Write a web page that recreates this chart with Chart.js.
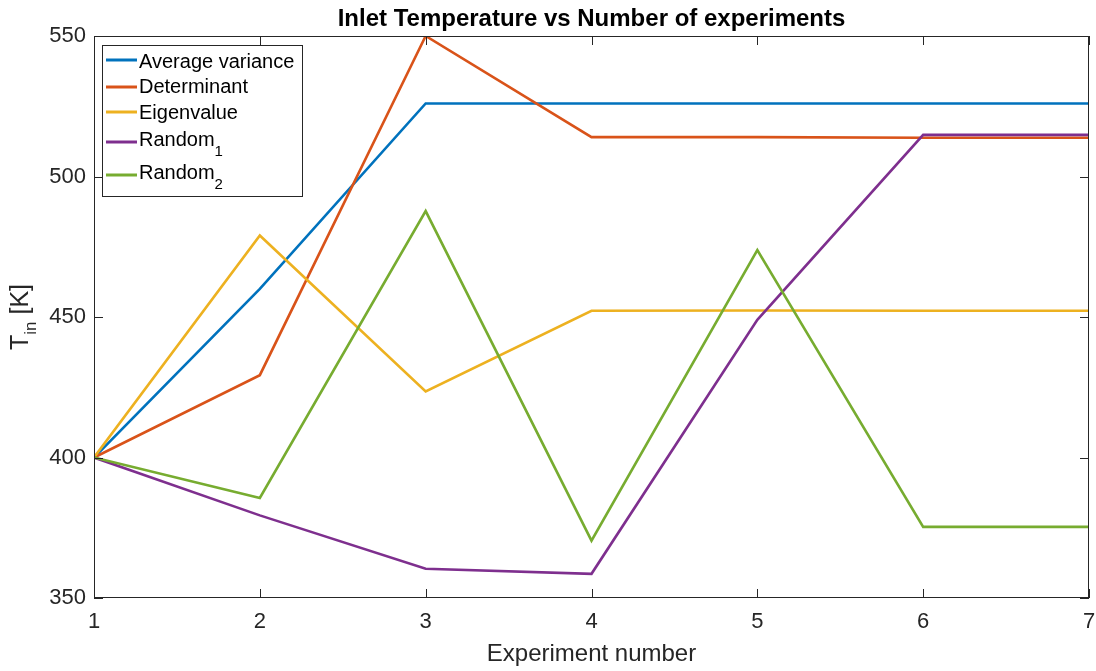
<!DOCTYPE html>
<html>
<head>
<meta charset="utf-8">
<script src="https://cdn.jsdelivr.net/npm/chart.js@4"></script>
<style>
  html, body { margin: 0; padding: 0; background: #fff; }
  #wrap { width: 1096px; height: 671px; }
</style>
</head>
<body>
<div id="wrap"><canvas id="tinChart" width="1096" height="671"></canvas></div>
<script>
const experiments = [1, 2, 3, 4, 5, 6, 7];
const avgVariance = [400, 460, 526, 526, 526, 526, 526];
const determinant = [400, 429.3, 550, 514, 514, 513.8, 513.8];
const eigenvalue = [400, 479, 423.5, 452.2, 452.3, 452.2, 452.2];
const random1 = [400, 379.4, 360.4, 358.6, 449, 514.8, 514.8];
const random2 = [400, 385.6, 487.7, 370.4, 473.8, 375.3, 375.3];
const yTicks = [350, 400, 450, 500, 550];

const seriesNames = ['Average variance', 'Determinant', 'Eigenvalue', 'Random', 'Random'];
const seriesSubs = ['', '', '', '1', '2'];
const colours = ['#0072BD', '#D95319', '#EDB120', '#7E2F8E', '#77AC30'];
const allSeries = [avgVariance, determinant, eigenvalue, random1, random2];

const FONT = 'Arial, "Liberation Sans", Helvetica, sans-serif';
const textCol = '#262626';
const axisCol = '#262626';

// MATLAB style box, ticks, titles and legend
const matlabDecor = {
  id: 'matlabDecor',
  afterDatasetsDraw(chart) {
    const ctx = chart.ctx;
    const a = chart.chartArea;
    const xs = chart.scales.x, ys = chart.scales.y;
    ctx.save();
    ctx.strokeStyle = axisCol;
    ctx.lineWidth = 1;
    ctx.strokeRect(a.left + 0.5, a.top + 0.5, a.right - a.left - 1, a.bottom - a.top - 1);
    ctx.beginPath();
    experiments.forEach(v => {
      const px = Math.round(xs.getPixelForValue(v)) + 0.5;
      ctx.moveTo(px, a.bottom); ctx.lineTo(px, a.bottom - 9);
      ctx.moveTo(px, a.top); ctx.lineTo(px, a.top + 9);
    });
    yTicks.forEach(v => {
      const py = Math.round(ys.getPixelForValue(v)) + 0.5;
      ctx.moveTo(a.left, py); ctx.lineTo(a.left + 9, py);
      ctx.moveTo(a.right, py); ctx.lineTo(a.right - 9, py);
    });
    ctx.stroke();

    // title
    ctx.fillStyle = '#000';
    ctx.font = 'bold 24px ' + FONT;
    ctx.textAlign = 'center';
    ctx.textBaseline = 'alphabetic';
    ctx.fillText('Inlet Temperature vs Number of experiments', (a.left + a.right) / 2, 26);

    // x title
    ctx.fillStyle = textCol;
    ctx.font = '24px ' + FONT;
    ctx.fillText('Experiment number', (a.left + a.right) / 2, 661);

    // y title with subscript
    ctx.save();
    ctx.translate(28, (a.top + a.bottom) / 2);
    ctx.rotate(-Math.PI / 2);
    ctx.textAlign = 'left';
    ctx.font = '25px ' + FONT;
    const w1 = ctx.measureText('T').width;
    ctx.font = '17px ' + FONT;
    const w2 = ctx.measureText('in').width;
    ctx.font = '25px ' + FONT;
    const w3 = ctx.measureText(' [K]').width;
    let x0 = -(w1 + w2 + w3) / 2;
    ctx.fillText('T', x0, 0);
    ctx.font = '17px ' + FONT;
    ctx.fillText('in', x0 + w1, 8);
    ctx.font = '25px ' + FONT;
    ctx.fillText(' [K]', x0 + w1 + w2, 0);
    ctx.restore();

    // legend
    const lx = 102, ly = 45, lw = 200, lh = 151;
    ctx.fillStyle = '#fff';
    ctx.fillRect(lx, ly, lw, lh);
    ctx.strokeStyle = '#262626';
    ctx.lineWidth = 1;
    ctx.strokeRect(lx + 0.5, ly + 0.5, lw, lh);
    const lineY = [60, 87, 112, 142, 175];
    const textY = [62, 87, 113, 140, 173];
    seriesNames.forEach((name, i) => {
      ctx.strokeStyle = colours[i];
      ctx.lineWidth = 3;
      ctx.beginPath();
      ctx.moveTo(106, lineY[i]); ctx.lineTo(137, lineY[i]);
      ctx.stroke();
      ctx.fillStyle = '#000';
      ctx.textAlign = 'left';
      ctx.textBaseline = 'middle';
      ctx.font = '20px ' + FONT;
      ctx.fillText(name, 139, textY[i]);
      if (seriesSubs[i]) {
        const w = ctx.measureText(name).width;
        ctx.font = '15px ' + FONT;
        ctx.fillText(seriesSubs[i], 139 + w, textY[i] + 12);
      }
    });
    ctx.restore();
  }
};

new Chart(document.getElementById('tinChart').getContext('2d'), {
  type: 'line',
  data: {
    datasets: allSeries.map((vals, i) => ({
      label: seriesNames[i] + seriesSubs[i],
      data: experiments.map((x, k) => ({ x: x, y: vals[k] })),
      borderColor: colours[i],
      backgroundColor: colours[i],
      borderWidth: 2.6,
      pointRadius: 0,
      tension: 0,
      fill: false,
      order: 5 - i
    }))
  },
  options: {
    responsive: false,
    animation: false,
    layout: { padding: { top: 36, right: 7, left: 0, bottom: 0 } },
    plugins: {
      legend: { display: false },
      title: { display: false },
      tooltip: { enabled: false }
    },
    scales: {
      x: {
        type: 'linear',
        min: 1, max: 7,
        grid: { display: false },
        border: { display: false },
        afterFit(s) { s.height = 73; s.paddingLeft = 0; s.paddingRight = 0; },
        afterBuildTicks(s) { s.ticks = experiments.map(v => ({ value: v })); },
        ticks: { color: textCol, font: { family: FONT, size: 22 }, padding: 3, maxRotation: 0 }
      },
      y: {
        min: 350, max: 550,
        grid: { display: false },
        border: { display: false },
        afterFit(s) { s.width = 94; s.paddingTop = 0; s.paddingBottom = 0; },
        afterBuildTicks(s) { s.ticks = yTicks.map(v => ({ value: v })); },
        ticks: { color: textCol, font: { family: FONT, size: 22 }, padding: 0 }
      }
    }
  },
  plugins: [matlabDecor]
});
</script>
</body>
</html>
